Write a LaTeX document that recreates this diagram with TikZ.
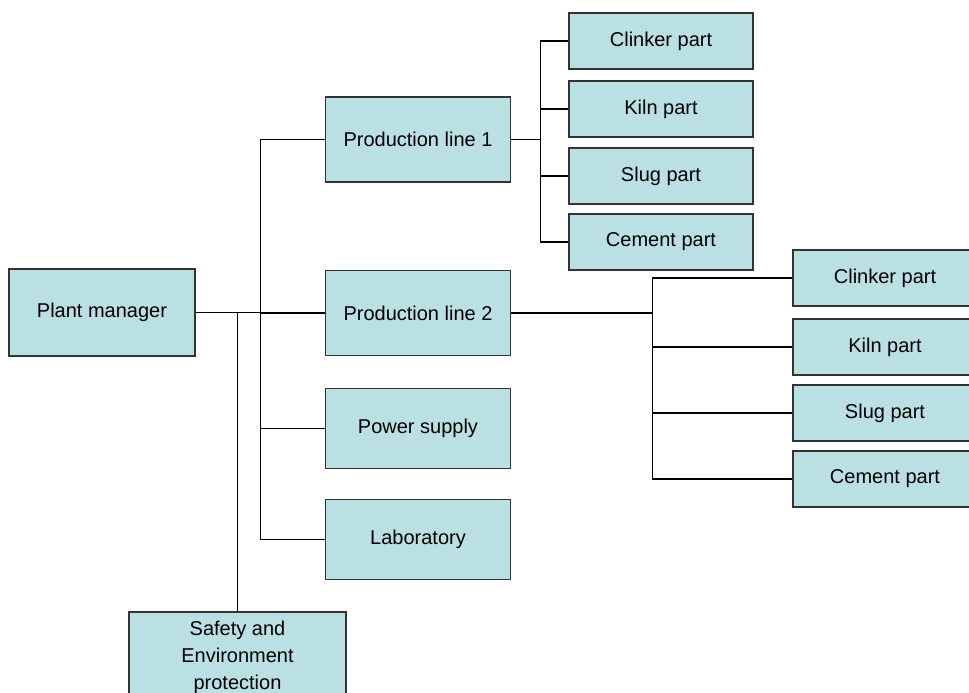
\documentclass[tikz,border=0pt]{standalone}
\usepackage{fontspec}
\setmainfont{Liberation Sans}
\definecolor{boxfill}{RGB}{187,224,227}
\begin{document}
\begin{tikzpicture}
        [x=0.5pt,y=-0.5pt,
        boxdecorate/.style={shape=rectangle,draw=black!80,fill=boxfill,line width=0.6pt,inner sep=0pt,align=center,font=\fontsize{10}{13.5}\selectfont},%
        linedecorate/.style={-,line width=0.6pt}]
        \path[use as bounding box,clip] (0,0) rectangle (969,692);
        %% boxes
        \foreach \nodename/\x/\y/\w/\h/\caption in {pm/102/312.5/186/87/Plant manager,
          pl1/418/139.5/185/85/Production line 1, pl2/418/313/185/85/Production line 2,
          ps/418/428.5/185/80/Power supply, lab/418/539.5/185/80/Laboratory,
          safe/237.5/657/217/90/Safety and\\Environment\\protection,
          ca/661/41/184/56/Clinker part, ka/661/109/184/56/Kiln part,
          sa/661/176/184/56/Slug part, ea/661/242/184/56/Cement part,
          cb/885/278/184/56/Clinker part, kb/885/347/184/56/Kiln part,
          sb/885/413/184/56/Slug part, eb/885/479/184/56/Cement part}
        {
          \node (\nodename) at (\x,\y) [boxdecorate,minimum width=\w*0.5pt,minimum height=\h*0.5pt] {\caption};
        }
        %% lines
        \draw[linedecorate,line width=0.9pt] (pm.east) -- ++(65,0) coordinate (bus);
        \foreach \endnode in {pl1,pl2,ps,lab}
          \draw[linedecorate] (bus) |- (\endnode.west);
        \draw[linedecorate] (safe.north) -- (safe.north |- pm.east);
        \draw[linedecorate,line width=0.9pt] (pl1.east) -- ++(29,0) coordinate (subone);
        \foreach \endnode in {ca,ka,sa,ea}
          \draw[linedecorate] (subone) |- (\endnode.west);
        \draw[linedecorate,line width=0.9pt] (pl2.east) -- ++(141,0) coordinate (subtwo);
        \foreach \endnode in {cb,kb,sb,eb}
          \draw[linedecorate] (subtwo) |- (\endnode.west);
      \end{tikzpicture}
\end{document}
